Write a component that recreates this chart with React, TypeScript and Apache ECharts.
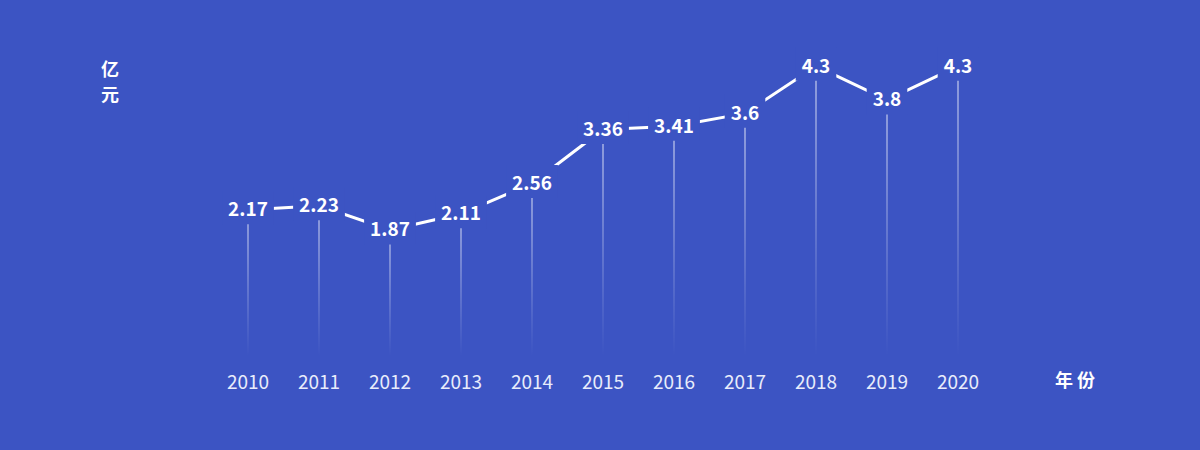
import React, { useEffect, useRef } from "react";
import * as echarts from "echarts";

const years = ["2010", "2011", "2012", "2013", "2014", "2015", "2016", "2017", "2018", "2019", "2020"];
const values = [2.17, 2.23, 1.87, 2.11, 2.56, 3.36, 3.41, 3.6, 4.3, 3.8, 4.3];
const yUnit = "亿\n元";
const xUnit = "年 份";
const BG = "#3C54C3";

export default function App() {
  const ref = useRef<HTMLDivElement>(null);
  useEffect(() => {
    const chart = echarts.init(ref.current!, null, { renderer: "svg" });
    chart.setOption({
      animation: false,
      backgroundColor: BG,
      textStyle: { fontFamily: "'Noto Sans CJK SC', 'Noto Sans', sans-serif" },
      grid: { left: 212.5, right: 206.5, top: 19, bottom: 94 },
      graphic: [
        {
          type: "text",
          left: 101,
          top: 55,
          style: { text: yUnit, fill: "#fff", font: "bold 18px 'Noto Sans CJK SC'", lineHeight: 25 },
        },
        {
          type: "text",
          left: 1055,
          top: 370,
          style: { text: xUnit, fill: "#fff", font: "bold 18px 'Noto Sans CJK SC'" },
        },
      ],
      xAxis: {
        type: "category",
        data: years,
        boundaryGap: true,
        axisLine: { show: false },
        axisTick: { show: false },
        axisLabel: { color: "#E8ECFB", fontSize: 19, margin: 15 },
      },
      yAxis: {
        type: "value",
        min: 0,
        max: 5,
        show: false,
        splitLine: { show: false },
      },
      series: [
        {
          type: "bar",
          data: values,
          barWidth: 1.5,
          z: 1,
          itemStyle: {
            color: new echarts.graphic.LinearGradient(0, 0, 0, 1, [
              { offset: 0, color: "rgba(255,255,255,0.6)" },
              { offset: 0.75, color: "rgba(255,255,255,0.14)" },
              { offset: 1, color: "rgba(255,255,255,0)" },
            ]),
          },
        },
        {
          type: "line",
          data: values,
          z: 3,
          symbol: "circle",
          symbolSize: 1,
          showSymbol: true,
          itemStyle: { color: "rgba(255,255,255,0)" },
          lineStyle: { color: "#fff", width: 3 },
          label: {
            show: true,
            position: "inside",
            offset: [0, -2],
            color: "#fff",
            fontSize: 19,
            fontWeight: "bold",
            lineHeight: 20,
            backgroundColor: BG,
            padding: [5, 6, 8, 6],
          },
        },
      ],
    });
    return () => chart.dispose();
  }, []);
  return <div ref={ref} style={{ width: 1200, height: 450, position: "absolute", left: 0, top: 0 }} />;
}
